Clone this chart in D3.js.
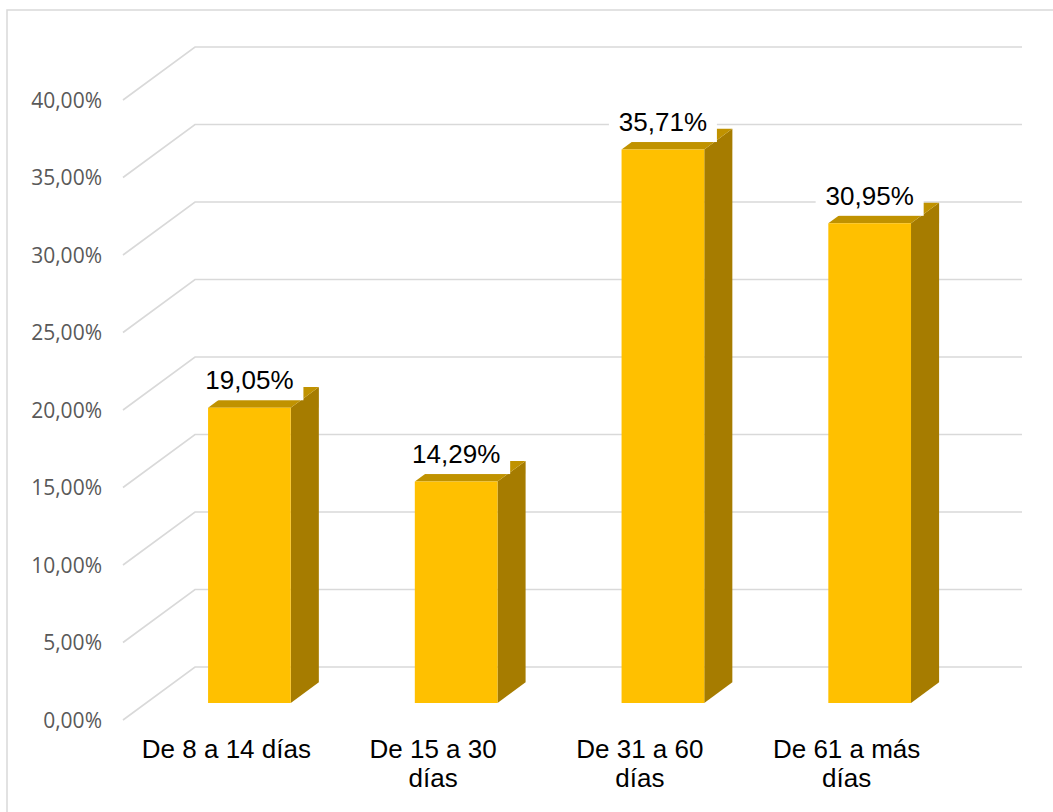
<!DOCTYPE html>
<html>
<head>
<meta charset="utf-8">
<script src="https://cdn.jsdelivr.net/npm/d3@7"></script>
<style>
  html, body { margin: 0; padding: 0; background: #ffffff; }
  svg { display: block; }
</style>
</head>
<body>
<svg id="chart" width="1053" height="812"></svg>
<script>
// Chart data
const categories = ["De 8 a 14 días", "De 15 a 30 días", "De 31 a 60 días", "De 61 a más días"];
const values = [19.05, 14.29, 35.71, 30.95];
const tickValues = [0, 5, 10, 15, 20, 25, 30, 35, 40];

const W = 1053, H = 812;
const svg = d3.select("#chart");

// Spanish number formatting: comma as decimal separator
const esLocale = d3.formatLocale({ decimal: ",", thousands: ".", grouping: [3], currency: ["", " €"] });
const fmt = v => esLocale.format(".2f")(v) + "%";

// Oblique 3D frame: front-left floor corner and depth vector
const origin = { x: 123, y: 720 };
const depth = { dx: 72, dy: -53 };
const wallWidth = 827;
const wallHeight = 620;

const y = d3.scaleLinear().domain([0, 40]).range([0, wallHeight]);
const x = d3.scaleBand().domain(categories).range([0, wallWidth])
  .paddingInner(0.6).paddingOuter(0.3);

// Project (along-axis x, height h, depth fraction f) to screen coords
function proj(px, h, f) {
  return [origin.x + px + f * depth.dx, origin.y - h + f * depth.dy];
}

// Depth span occupied by the columns
const fFront = 0.32, fBack = 0.71;

// Outer chart border
svg.append("rect")
  .attr("x", 7).attr("y", 10)
  .attr("width", W).attr("height", H)
  .attr("fill", "#ffffff")
  .attr("stroke", "#d9d9d9").attr("stroke-width", 1.5);

// Gridlines: side wall diagonals and back wall horizontals
const grid = svg.append("g").attr("fill", "none")
  .attr("stroke", "#d9d9d9").attr("stroke-width", 1.6);
tickValues.forEach(t => {
  const h = y(t);
  const a = proj(0, h, 0), b = proj(0, h, 1), c = proj(wallWidth, h, 1);
  grid.append("polyline")
    .attr("points", [a, b, c].map(p => p.join(",")).join(" "));
});

// Value axis labels
svg.append("g")
  .selectAll("text")
  .data(tickValues)
  .join("text")
  .attr("x", 102)
  .attr("y", d => proj(0, y(d), 0)[1])
  .attr("dy", "0.36em")
  .attr("text-anchor", "end")
  .attr("font-family", "'Open Sans', 'Noto Sans', sans-serif")
  .attr("font-size", 21)
  .attr("fill", "#595959")
  .text(d => fmt(d));

// Columns: front, side and top faces
const bw = x.bandwidth();
const bars = svg.append("g").selectAll("g")
  .data(categories.map((c, i) => ({ c, v: values[i] })))
  .join("g");

const pts = arr => arr.map(p => p.join(",")).join(" ");

bars.append("polygon") // right side
  .attr("fill", "#a67c00")
  .attr("points", d => {
    const x0 = x(d.c) + bw, h = y(d.v);
    return pts([proj(x0, 0, fFront), proj(x0, 0, fBack), proj(x0, h, fBack), proj(x0, h, fFront)]);
  });

bars.append("polygon") // top
  .attr("fill", "#c09200")
  .attr("points", d => {
    const x0 = x(d.c), h = y(d.v);
    return pts([proj(x0, h, fFront), proj(x0 + bw, h, fFront), proj(x0 + bw, h, fBack), proj(x0, h, fBack)]);
  });

bars.append("polygon") // front
  .attr("fill", "#ffc000")
  .attr("points", d => {
    const x0 = x(d.c), h = y(d.v);
    return pts([proj(x0, 0, fFront), proj(x0 + bw, 0, fFront), proj(x0 + bw, h, fFront), proj(x0, h, fFront)]);
  });

// Data labels with white boxes
const labels = svg.append("g").selectAll("g")
  .data(categories.map((c, i) => ({ c, v: values[i] })))
  .join("g")
  .attr("transform", d => {
    const [cx, cy] = proj(x(d.c) + bw / 2, y(d.v), fFront);
    return `translate(${cx},${cy - 18.5})`;
  });

labels.append("rect")
  .attr("x", -54).attr("y", -27)
  .attr("width", 108).attr("height", 38)
  .attr("fill", "#ffffff");

labels.append("text")
  .attr("text-anchor", "middle")
  .attr("font-family", "'Liberation Sans', Arial, sans-serif")
  .attr("font-size", 26)
  .attr("fill", "#000000")
  .text(d => fmt(d.v));

// Category labels, wrapped to fit the column spacing
const catG = svg.append("g");
categories.forEach(c => {
  const [cx] = proj(x(c) + bw / 2, 0, 0);
  const t = catG.append("text")
    .attr("text-anchor", "middle")
    .attr("font-family", "'Liberation Sans', Arial, sans-serif")
    .attr("font-size", 26)
    .attr("fill", "#000000");
  const words = c.split(" ");
  let lines = [], line = [];
  const probe = t.append("tspan");
  words.forEach(w => {
    const test = line.concat([w]).join(" ");
    probe.text(test);
    if (probe.node().getComputedTextLength() > 176 && line.length) {
      lines.push(line.join(" "));
      line = [w];
    } else {
      line.push(w);
    }
  });
  lines.push(line.join(" "));
  probe.remove();
  lines.forEach((l, i) => {
    t.append("tspan")
      .attr("x", cx)
      .attr("y", origin.y + 38 + i * 29)
      .text(l);
  });
});
</script>
</body>
</html>
